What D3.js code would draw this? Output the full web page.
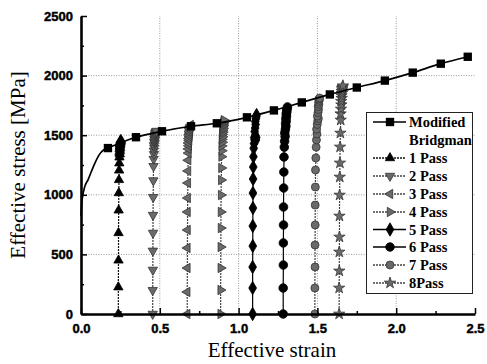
<!DOCTYPE html>
<html><head><meta charset="utf-8">
<script src="https://cdn.jsdelivr.net/npm/d3@7"></script>
<style>
html,body{margin:0;padding:0;background:#fff;}
svg{display:block;}
</style></head>
<body>
<svg id="chart" width="487" height="364"></svg>
<script>
// ---------------- DATA ----------------
const xTicks = [0.0, 0.5, 1.0, 1.5, 2.0, 2.5];
const yTicks = [0, 500, 1000, 1500, 2000, 2500];
const xMinorTicks = [0.25, 0.75, 1.25, 1.75, 2.25];
const yMinorTicks = [250, 750, 1250, 1750, 2250];
const xLabel = "Effective strain";
const yLabel = "Effective stress [MPa]";

// Modified Bridgman: initial (unmarked) part and marked part
const bridgmanFitStrain = [0, 0.003, 0.01, 0.022, 0.046, 0.078, 0.115, 0.145];
const bridgmanFitStress = [820, 900, 985, 1060, 1130, 1235, 1335, 1378];
const bridgmanStrain = [0.171, 0.349, 0.514, 0.698, 0.862, 1.053, 1.224, 1.401, 1.579, 1.75, 1.928, 2.105, 2.283, 2.454];
const bridgmanStress = [1392, 1483, 1533, 1575, 1600, 1650, 1708, 1775, 1842, 1900, 1958, 2025, 2100, 2158];

const seriesNames = ["Modified", "Bridgman", "1 Pass", "2 Pass", "3 Pass", "4 Pass", "5 Pass", "6 Pass", "7 Pass", "8Pass"];

const pass1Strain = [0.237,0.237,0.238,0.238,0.239,0.240,0.241,0.242,0.243,0.244,0.246,0.244,0.247,0.245,0.248,0.246,0.249,0.247,0.250,0.248,0.251,0.252,0.250,0.253];
const pass1Stress = [0,225,450,680,870,1015,1125,1205,1265,1315,1340,1355,1370,1383,1395,1405,1415,1423,1431,1438,1444,1450,1455,1462];

const pass2Strain = [0.455,0.455,0.456,0.456,0.457,0.457,0.458,0.459,0.460,0.461,0.463,0.462,0.465,0.463,0.467,0.465,0.468,0.466,0.470,0.468,0.472,0.470,0.474,0.472,0.476,0.478];
const pass2Stress = [0,200,370,530,680,830,980,1120,1240,1300,1340,1370,1395,1415,1432,1446,1458,1468,1478,1488,1497,1506,1514,1521,1528,1535];

const pass3Strain = [0.674,0.674,0.675,0.675,0.676,0.676,0.677,0.678,0.679,0.680,0.682,0.681,0.684,0.682,0.686,0.684,0.688,0.686,0.690,0.688,0.692,0.690,0.694,0.693,0.696];
const pass3Stress = [0,185,386,554,705,856,973,1099,1200,1290,1350,1385,1412,1435,1455,1472,1488,1503,1517,1530,1543,1555,1566,1576,1586];

const pass4Strain = [0.886,0.886,0.887,0.887,0.888,0.888,0.889,0.890,0.891,0.892,0.894,0.893,0.896,0.894,0.898,0.896,0.900,0.898,0.902,0.900,0.904,0.902,0.906,0.905,0.908];
const pass4Stress = [0,201,386,562,721,856,998,1124,1225,1320,1370,1410,1440,1465,1487,1507,1525,1541,1556,1570,1583,1595,1606,1616,1626];

const pass5Strain = [1.089,1.089,1.089,1.090,1.090,1.091,1.091,1.092,1.093,1.094,1.096,1.098,1.101,1.099,1.104,1.110,1.112,1.106,1.102,1.105,1.108,1.106,1.110,1.112,1.114];
const pass5Stress = [0,218,394,570,738,889,1015,1133,1233,1320,1390,1430,1460,1480,1470,1460,1482,1500,1530,1560,1590,1615,1638,1655,1669];

const pass6Strain = [1.283,1.283,1.284,1.284,1.285,1.285,1.286,1.287,1.288,1.290,1.292,1.295,1.293,1.297,1.300,1.298,1.302,1.300,1.304,1.302,1.306,1.305,1.308,1.310];
const pass6Stress = [0,218,411,596,747,898,1057,1191,1317,1400,1450,1490,1520,1550,1575,1598,1620,1640,1660,1678,1695,1710,1724,1737];

const pass7Strain = [1.484,1.484,1.485,1.485,1.486,1.486,1.487,1.488,1.490,1.492,1.494,1.497,1.495,1.499,1.502,1.506,1.500,1.504,1.507,1.505,1.509,1.508,1.512,1.510,1.514];
const pass7Stress = [0,218,394,579,747,914,1065,1208,1309,1400,1460,1510,1550,1590,1620,1640,1660,1690,1715,1740,1760,1778,1792,1804,1812];

const pass8Strain = [1.638,1.638,1.639,1.639,1.640,1.640,1.641,1.642,1.643,1.644,1.646,1.648,1.647,1.650,1.652,1.651,1.654,1.653,1.656,1.655,1.658,1.657,1.660,1.662];
const pass8Stress = [0,218,361,520,646,822,998,1149,1267,1401,1518,1627,1680,1720,1755,1785,1810,1832,1852,1868,1882,1895,1905,1915];

const passStrains = [pass1Strain, pass2Strain, pass3Strain, pass4Strain, pass5Strain, pass6Strain, pass7Strain, pass8Strain];
const passStresses = [pass1Stress, pass2Stress, pass3Stress, pass4Stress, pass5Stress, pass6Stress, pass7Stress, pass8Stress];

// ---------------- STYLES ----------------
const GRAY = "#6a6a6a";
const GSTROKE = "#333";
const passStyles = [
  {type: d3.symbolTriangle, rot: 0,   size: 38, fill: "#000", stroke: "#000", line: "#111", dash: "2,1"},
  {type: d3.symbolTriangle, rot: 180, size: 38, fill: GRAY, stroke: GSTROKE, line: "#444", dash: "2,1"},
  {type: d3.symbolTriangle, rot: -90, size: 38, fill: GRAY, stroke: GSTROKE, line: "#444", dash: "2,1"},
  {type: d3.symbolTriangle, rot: 90,  size: 38, fill: GRAY, stroke: GSTROKE, line: "#444", dash: "2,1"},
  {type: d3.symbolDiamond,  rot: 0,   size: 52, fill: "#000", stroke: "#000", line: "#000", dash: null},
  {type: d3.symbolCircle,   rot: 0,   size: 58, fill: "#000", stroke: "#000", line: "#000", dash: null},
  {type: d3.symbolCircle,   rot: 0,   size: 50, fill: GRAY, stroke: GSTROKE, line: "#444", dash: "2,1"},
  {type: d3.symbolStar,     rot: 0,   size: 40, fill: GRAY, stroke: GSTROKE, line: "#444", dash: "2,1"}
];

// ---------------- CHART ----------------
const svg = d3.select("#chart");
const x = d3.scaleLinear().domain([0, 2.5]).range([81, 475]);
const y = d3.scaleLinear().domain([0, 2500]).range([314, 16]);

// grid
const grid = svg.append("g").attr("stroke", "#9a9a9a").attr("stroke-width", 1).attr("stroke-dasharray", "1,1.5");
grid.selectAll("line.h").data(yTicks.filter(v => v > 0 && v < 2500)).join("line")
  .attr("x1", x(0)).attr("x2", x(2.5)).attr("y1", d => y(d)).attr("y2", d => y(d));
grid.selectAll("line.v").data(xTicks.filter(v => v > 0 && v < 2.5)).join("line")
  .attr("y1", y(0)).attr("y2", y(2500)).attr("x1", d => x(d)).attr("x2", d => x(d));

// pass curves
const lineGen = d3.line().x(d => x(d[0])).y(d => y(d[1]));
passStrains.forEach((strains, i) => {
  const st = passStyles[i];
  const pts = strains.map((s, j) => [s, passStresses[i][j]]);
  svg.append("path").datum(pts).attr("d", lineGen)
    .attr("fill", "none").attr("stroke", st.line).attr("stroke-width", 1.2)
    .attr("stroke-dasharray", st.dash);
  svg.append("g").selectAll("path").data(pts).join("path")
    .attr("d", d3.symbol().type(st.type).size(st.size))
    .attr("transform", d => `translate(${x(d[0])},${y(d[1])}) rotate(${st.rot})`)
    .attr("fill", st.fill).attr("stroke", st.stroke).attr("stroke-width", 0.8);
});

// Modified Bridgman
const bFull = bridgmanFitStrain.map((s, j) => [s, bridgmanFitStress[j]])
  .concat(bridgmanStrain.map((s, j) => [s, bridgmanStress[j]]));
svg.append("path").datum(bFull)
  .attr("d", d3.line().x(d => x(d[0])).y(d => y(d[1])).curve(d3.curveMonotoneX))
  .attr("fill", "none").attr("stroke", "#000").attr("stroke-width", 1.7);
svg.append("g").selectAll("path").data(bridgmanStrain.map((s, j) => [s, bridgmanStress[j]])).join("path")
  .attr("d", d3.symbol().type(d3.symbolSquare).size(70))
  .attr("transform", d => `translate(${x(d[0])},${y(d[1])})`)
  .attr("fill", "#000");

// axes
const tickFont = "'Liberation Sans', Arial, sans-serif";
function styleAxis(g, w) {
  g.select(".domain").attr("stroke", "#000").attr("stroke-width", w);
  g.selectAll(".tick line").attr("stroke", "#000").attr("stroke-width", 1.5);
  g.selectAll("text").style("font-family", tickFont).style("font-size", "13px")
    .style("font-weight", "700").attr("fill", "#000")
    .attr("stroke", "#000").attr("stroke-width", 0.45);
}
const xMinor = svg.append("g").attr("transform", `translate(0,${y(0)})`)
  .call(d3.axisBottom(x).tickValues(xMinorTicks).tickSizeInner(-3).tickSizeOuter(0).tickFormat(""));
xMinor.select(".domain").remove();
xMinor.selectAll(".tick line").attr("stroke", "#000").attr("stroke-width", 1.5);
const yMinor = svg.append("g").attr("transform", `translate(${x(0)},0)`)
  .call(d3.axisLeft(y).tickValues(yMinorTicks).tickSizeInner(-3).tickSizeOuter(0).tickFormat(""));
yMinor.select(".domain").remove();
yMinor.selectAll(".tick line").attr("stroke", "#000").attr("stroke-width", 1.5);

const xAxis = svg.append("g").attr("transform", `translate(0,${y(0)})`)
  .call(d3.axisBottom(x).tickValues(xTicks).tickFormat(d3.format(".1f"))
    .tickSizeInner(-6).tickSizeOuter(0).tickPadding(10));
styleAxis(xAxis, 2.6);
const yAxis = svg.append("g").attr("transform", `translate(${x(0)},0)`)
  .call(d3.axisLeft(y).tickValues(yTicks).tickFormat(d3.format("d"))
    .tickSizeInner(-6).tickSizeOuter(0).tickPadding(8));
styleAxis(yAxis, 2.6);

// axis titles
const serif = "'Liberation Serif', 'Times New Roman', serif";
svg.append("text").attr("x", 272).attr("y", 357).attr("text-anchor", "middle")
  .attr("font-family", serif).attr("font-size", 21)
  .attr("fill", "#000").text(xLabel);
svg.append("text").attr("transform", "translate(25,165) rotate(-90)").attr("text-anchor", "middle")
  .attr("font-family", serif).attr("font-size", 21)
  .attr("fill", "#000").text(yLabel);

// legend
const lg = svg.append("g");
lg.append("rect").attr("x", 366.5).attr("y", 112.5).attr("width", 106).attr("height", 181)
  .attr("fill", "#fff").attr("stroke", "#222").attr("stroke-width", 1);
const legendY = [122, 140, 158, 176, 194, 212, 229.5, 247, 265, 283];
seriesNames.forEach((name, i) => {
  const yy = legendY[i];
  lg.append("text").attr("x", 409).attr("y", yy + 5).attr("font-family", serif)
    .attr("font-size", 14.5).attr("font-weight", "bold").attr("fill", "#000").text(name);
  if (i === 0) {
    lg.append("line").attr("x1", 373).attr("x2", 406).attr("y1", yy).attr("y2", yy)
      .attr("stroke", "#000").attr("stroke-width", 1.6);
    lg.append("path").attr("d", d3.symbol().type(d3.symbolSquare).size(70)())
      .attr("transform", `translate(390,${yy})`).attr("fill", "#000");
  } else if (i >= 2) {
    const st = passStyles[i - 2];
    lg.append("line").attr("x1", 373).attr("x2", 406).attr("y1", yy).attr("y2", yy)
      .attr("stroke", st.line).attr("stroke-width", 1.4).attr("stroke-dasharray", st.dash);
    lg.append("path").attr("d", d3.symbol().type(st.type).size(st.size)())
      .attr("transform", `translate(390,${yy}) rotate(${st.rot})`)
      .attr("fill", st.fill).attr("stroke", st.stroke).attr("stroke-width", 0.8);
  }
});
</script>
</body></html>
